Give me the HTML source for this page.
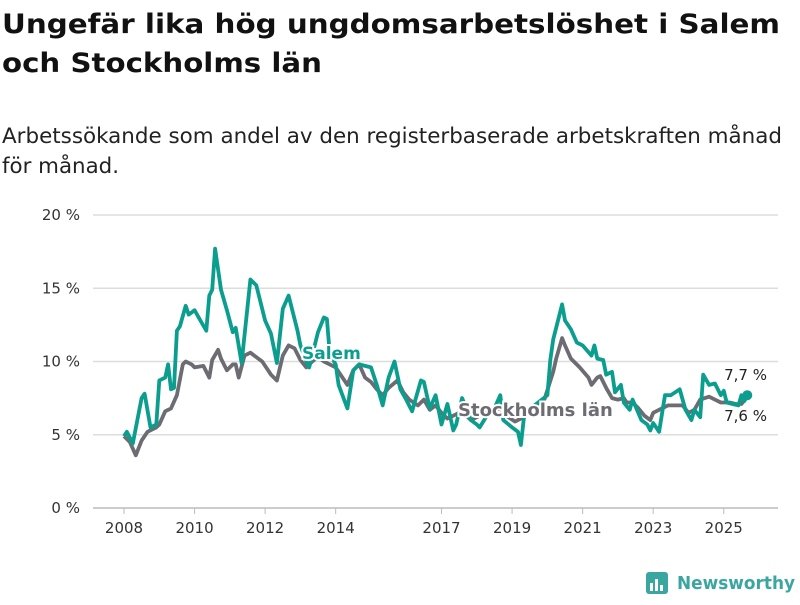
<!DOCTYPE html>
<html><head><meta charset="utf-8"><style>
body{margin:0;background:#fff;width:800px;height:600px;overflow:hidden;font-family:"Liberation Sans","DejaVu Sans",sans-serif}
</style></head><body>
<svg width="800" height="600" style="font-family:'DejaVu Sans','Liberation Sans',sans-serif">
<text x="2" y="33" font-size="27" font-weight="bold" fill="#111" textLength="778" lengthAdjust="spacingAndGlyphs">Ungefär lika hög ungdomsarbetslöshet i Salem</text>
<text x="2" y="72" font-size="27" font-weight="bold" fill="#111" textLength="320" lengthAdjust="spacingAndGlyphs">och Stockholms län</text>
<text x="2" y="143" font-size="21" fill="#222" textLength="780" lengthAdjust="spacingAndGlyphs">Arbetssökande som andel av den registerbaserade arbetskraften månad</text>
<text x="2" y="173" font-size="21" fill="#222" textLength="117" lengthAdjust="spacingAndGlyphs">för månad.</text>
<g id="grid"></g><g id="xaxis"></g><g id="lines"></g><g id="labels"></g>
<g>
<rect x="646" y="572" width="22" height="22" rx="3" fill="#3aa6a0"/>
<rect x="650" y="583" width="3" height="8" fill="#fff"/><rect x="655" y="579" width="3" height="12" fill="#fff"/><rect x="660" y="585" width="3" height="6" fill="#fff"/>
<text x="677" y="589" font-size="18" font-weight="bold" fill="#3aa6a0" textLength="118" lengthAdjust="spacingAndGlyphs">Newsworthy</text>
</g>
</svg>
<script>
const yTicks=[0,5,10,15,20];
const yTickLabels=["0 %","5 %","10 %","15 %","20 %"];
const xTickYears=[2008,2010,2012,2014,2017,2019,2021,2023,2025];
const salemMonths=[0,1,3,6,7,9,11,12,14,15,16,17,18,19,21,22,24,26,28,29,30,31,33,35,37,38,40,43,45,48,50,52,54,56,59,60,62,63,66,68,69,70,72,73,76,78,80,84,86,88,90,92,94,96,98,101,102,104,106,108,110,112,113,115,118,120,121,124,126,128,129,132,134,135,136,137,139,144,145,146,149,150,152,154,156,159,160,161,163,164,166,167,169,170,172,173,176,178,179,180,182,184,186,189,191,193,194,196,197,199,201,203,204,205,207,209,210,211,212];
const salemValues=[4.9,5.2,4.4,7.5,7.8,5.5,5.7,8.7,8.9,9.8,8.1,8.2,12.1,12.4,13.8,13.2,13.5,12.8,12.1,14.5,14.9,17.7,14.9,13.5,12.0,12.3,9.9,15.6,15.2,12.8,11.9,9.9,13.6,14.5,12.1,11.1,10,9.6,12,13,12.9,10.5,9.8,8.4,6.8,9.4,9.8,9.6,8.4,7.0,8.9,10,8.1,7.4,6.6,8.7,8.6,6.8,7.7,5.7,7.1,5.3,5.7,7.5,6.0,5.7,5.5,6.5,6.8,7.7,6,5.5,5.2,4.3,6.1,6.7,6.9,7.7,10.1,11.5,13.9,12.8,12.2,11.3,11.1,10.4,11.1,10.2,10.1,9.1,9.3,7.9,8.4,7.2,6.7,7.4,6.0,5.7,5.3,5.8,5.2,7.7,7.7,8.1,6.7,6.0,6.7,6.2,9.1,8.4,8.5,7.7,8.0,7.2,7.1,7.0,7.7,7.3,7.7];
const sthlmMonths=[0,2,4,6,8,11,12,14,16,18,20,21,23,24,27,29,30,32,33,35,37,38,39,41,43,45,47,49,50,52,54,56,58,60,62,64,66,68,70,72,73,76,78,80,82,84,86,88,90,93,95,97,100,102,104,106,108,110,112,115,118,121,124,128,130,133,135,137,139,143,146,147,149,150,152,155,158,159,161,162,164,166,168,170,171,173,175,177,179,180,182,185,188,190,192,194,196,199,201,203,204,206,208,210,212];
const sthlmValues=[4.9,4.5,3.6,4.6,5.2,5.5,5.7,6.6,6.8,7.7,9.8,10,9.8,9.6,9.7,8.9,10.1,10.8,10.2,9.4,9.8,9.8,8.9,10.4,10.6,10.3,10.0,9.4,9.1,8.7,10.4,11.1,10.9,10.1,9.6,10,10.3,10.0,9.8,9.6,9.3,8.4,9.4,9.8,8.9,8.6,8.1,7.7,8.2,8.7,7.9,7.4,7.0,7.4,6.7,7.0,6.5,6.1,6.3,6.6,6.0,6.3,6.6,6.8,6.3,5.9,6.1,6.5,6.9,7.4,9.3,10.2,11.6,11.1,10.2,9.6,8.9,8.4,8.9,9.0,8.2,7.5,7.4,7.5,7.2,7.2,6.8,6.3,6.0,6.5,6.7,7.0,7.0,7.0,6.5,6.7,7.4,7.6,7.4,7.2,7.2,7.2,7.1,7.1,7.6];
const NS="http://www.w3.org/2000/svg";
const xs=m=>124+m*2.94;
const ys=v=>508-v*14.65;
function mk(tag,attrs,parent){const e=document.createElementNS(NS,tag);for(const k in attrs)e.setAttribute(k,attrs[k]);parent.appendChild(e);return e;}
const grid=document.getElementById('grid');
yTicks.forEach((t,i)=>{
 const l=mk('line',{x1:93,x2:778,y1:ys(t),y2:ys(t),stroke:t===0?'#bbb':'#ddd','stroke-width':1.5},grid);
 
 
 const tx=mk('text',{x:80,y:ys(t)+5,'text-anchor':'end','font-size':15,fill:'#333'},grid);
 tx.textContent=yTickLabels[i];
 
 
});
const xa=document.getElementById('xaxis');
xTickYears.forEach(y=>{
 const x=xs((y-2008)*12);
 const tk=mk('line',{x1:x,x2:x,y1:508,y2:514,stroke:'#bbb','stroke-width':1},xa);
 
 
 const tx=mk('text',{x:x,y:533,'text-anchor':'middle','font-size':15,fill:'#333'},xa);
 tx.textContent=y;
 
 
});
const lines=document.getElementById('lines');
function path(ms,vs){return ms.map((m,i)=>(i?'L':'M')+xs(m).toFixed(1)+' '+ys(vs[i]).toFixed(1)).join(' ');}
const gp=mk('path',{d:path(sthlmMonths,sthlmValues),fill:'none',stroke:'#6d6c72','stroke-width':3.8,'stroke-linejoin':'round'},lines);


const sp=mk('path',{d:path(salemMonths,salemValues),fill:'none',stroke:'#0b9e8e','stroke-width':3.8,'stroke-linejoin':'round'},lines);


const lastS=salemMonths.length-1;
const d1=mk('circle',{cx:xs(salemMonths[lastS]),cy:ys(salemValues[lastS]),r:5,fill:'#0b9e8e'},lines);


const lab=document.getElementById('labels');
function label(txt,x,y,fill,name,weight,anchor,size){
 const t=mk('text',{x:x,y:y,'font-size':size,'font-weight':weight,fill:fill,'text-anchor':anchor,stroke:'#fff','stroke-width':4,'paint-order':'stroke'},lab);
 t.textContent=txt;
 
 
}
label('Salem',302,359,'#0b9e8e','salem-label','bold','start',17);
label('Stockholms län',458,416,'#6d6c72','stockholm-label','bold','start',18);
label('7,7 %',767,380,'#222','salem-end-value','normal','end',15);
label('7,6 %',767,421,'#222','stockholm-end-value','normal','end',15);
</script>
</body></html>
